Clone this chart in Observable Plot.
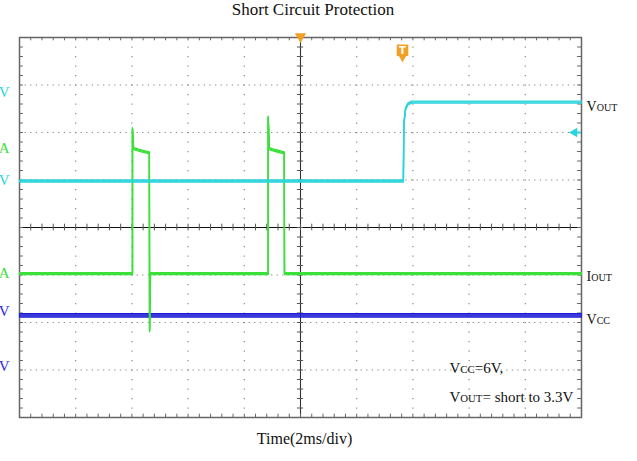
<!DOCTYPE html>
<html>
<head>
<meta charset="utf-8">
<script src="https://cdn.jsdelivr.net/npm/d3@7"></script>
<script src="https://cdn.jsdelivr.net/npm/@observablehq/plot@0.6"></script>
<style>
  html, body { margin: 0; padding: 0; background: #fff; }
  #title { height: 30px; line-height: 28px; font: 17px "Liberation Serif", serif; text-align: center; padding-right: 11px; color: #111; }
  svg { display: block; }
</style>
</head>
<body>
<div id="title">Short Circuit Protection</div>
<div id="chart"></div>
<script>
// time in ms (2 ms/div, 10 divisions), values in screen divisions (0..8)
const voutT = [0, 13.66, 13.68, 13.74, 13.82, 13.95, 20];
const voutV = [4.98, 4.98, 6.2, 6.5, 6.6, 6.64, 6.64];

const ioutT = [0, 4.02, 4.02, 4.06, 4.3, 4.62, 4.63, 4.66, 8.85, 8.85, 8.89, 9.1, 9.42, 9.43, 20];
const ioutV = [3.03, 3.03, 6.08, 5.66, 5.62, 5.57, 1.83, 3.03, 3.03, 6.32, 5.66, 5.62, 5.57, 3.03, 3.03];

const vccT = [0, 20];
const vccV = [2.15, 2.15];

const gridX = [2, 4, 6, 8, 12, 14, 16, 18];
const gridY = [1, 2, 3, 5, 6, 7];

const rightLabels = ["VOUT", "IOUT", "VCC"];
const rightLabelY = [6.55, 2.97, 2.06];
const rightLabelColor = "#111";

const leftLabels = ["V", "A", "V", "A", "V", "V"];
const leftLabelY = [6.84, 5.68, 4.99, 3.03, 2.23, 1.09];
const leftLabelColors = ["#2ad4dc", "#3be03b", "#2ad4dc", "#3be03b", "#2a2ae0", "#2a2ae0"];

const noteLines = ["VCC=6V,", "VOUT= short to 3.3V"];
const noteY = [1.03, 0.42];
const noteX = 15.3;

const xLabel = "Time(2ms/div)";

const CYAN = "#2ad4dc", GREEN = "#3be03b", BLUE = "#1c1cd6", ORANGE = "#f2a024";

const zip = (T, V) => T.map((t, i) => ({t, v: V[i]}));
const vout = zip(voutT, voutV);
const iout = zip(ioutT, ioutV);
const vcc = zip(vccT, vccV);

const minorX = d3.range(0, 20.0001, 0.4);
const minorY = d3.range(0, 8.0001, 0.2);

function trace(data, color, offs) {
  return offs.map(o => Plot.line(data, {x: "t", y: "v", stroke: color, strokeWidth: 1.4, dy: o, curve: "linear"}));
}

const plot = Plot.plot({
  width: 637, height: 431,
  marginTop: 7, marginBottom: 44, marginLeft: 19, marginRight: 56,
  x: {domain: [0, 20], axis: null},
  y: {domain: [0, 8], axis: null},
  style: {fontFamily: "'Liberation Serif', serif", background: "white", overflow: "visible"},
  marks: [
    // dotted grid
    Plot.ruleX(gridX, {stroke: "#8a8a8a", strokeWidth: 1.2, strokeDasharray: "1.3 8.2"}),
    Plot.ruleY(gridY, {stroke: "#8a8a8a", strokeWidth: 1.2, strokeDasharray: "1.3 4.3"}),
    // center cross
    Plot.ruleY([4], {stroke: "#111", strokeWidth: 1.1}),
    Plot.ruleX([10], {stroke: "#333", strokeWidth: 1.1}),
    Plot.ruleX(minorX, {x: d => d, y1: 4 - 0.07, y2: 4 + 0.07, stroke: "#555"}),
    Plot.ruleY(minorY, {y: d => d, x1: 10 - 0.11, x2: 10 + 0.11, stroke: "#555"}),
    // frame minor ticks
    Plot.ruleX(minorX, {x: d => d, y1: 8, y2: 8 - 0.07, stroke: "#666"}),
    Plot.ruleX(minorX, {x: d => d, y1: 0, y2: 0.07, stroke: "#666"}),
    Plot.ruleY(minorY, {y: d => d, x1: 0, x2: 0.14, stroke: "#666"}),
    Plot.ruleY(minorY, {y: d => d, x1: 20, x2: 19.86, stroke: "#666"}),
    Plot.frame({stroke: "#666", strokeWidth: 1.5}),
    // traces
    ...trace(vcc, BLUE, [-1.6, -0.5, 0.5, 1.6]),
    ...trace(iout, GREEN, [-1, 0, 1]),
    ...trace(vout, CYAN, [-1, 0, 1]),
    // markers
    Plot.ruleY([6], {x1: 19.72, x2: 20, stroke: CYAN, strokeWidth: 2}),
    Plot.dot([6], {x: 20, y: d => d, symbol: "triangle", rotate: -90, r: 3.6, fill: CYAN, stroke: "none", dx: -7}),
    Plot.dot([10], {x: d => d, y: 8, symbol: "triangle", rotate: 180, r: 4.2, fill: ORANGE, stroke: "none", dy: -1}),
    Plot.dot([13.63], {x: d => d, y: 7.71, symbol: "triangle", rotate: 180, r: 4.5, fill: ORANGE, stroke: "none", dy: 4}),
    Plot.dot([13.63], {x: d => d, y: 7.71, symbol: "square", r: 6.5, fill: ORANGE, stroke: "none", dy: -1}),
    Plot.text([13.63], {x: d => d, y: 7.71, text: () => "T", fill: "white", fontSize: 10, fontWeight: "bold", fontFamily: "'DejaVu Sans', sans-serif", dy: -0.5}),
    // labels
    Plot.text(rightLabels, {x: 20, y: (d, i) => rightLabelY[i], text: d => d, dx: 5, textAnchor: "start", fontSize: 14, fill: rightLabelColor}),
    Plot.text(leftLabels, {x: 0, y: (d, i) => leftLabelY[i], text: d => d, dx: -10, textAnchor: "end", fontSize: 15, fill: (d, i) => leftLabelColors[i]}),
    Plot.text(noteLines, {x: noteX, y: (d, i) => noteY[i], text: d => d, textAnchor: "start", fontSize: 15, fill: "#111"}),
    Plot.text([xLabel], {frameAnchor: "bottom", text: d => d, dy: 21, dx: 4, fontSize: 16, fill: "#111", lineAnchor: "middle"})
  ]
});

// Render VOUT / IOUT / VCC with small-cap subscripts (text remains real text)
d3.select(plot).selectAll("text").each(function() {
  const s = this.textContent;
  const m = /^([VI])(OUT|CC)(.*)$/.exec(s);
  if (!m) return;
  const el = d3.select(this);
  el.text(null);
  el.append("tspan").text(m[1]);
  el.append("tspan").attr("font-size", "0.72em").text(m[2]);
  if (m[3]) el.append("tspan").text(m[3]);
});

document.getElementById("chart").appendChild(plot);
</script>
</body>
</html>
